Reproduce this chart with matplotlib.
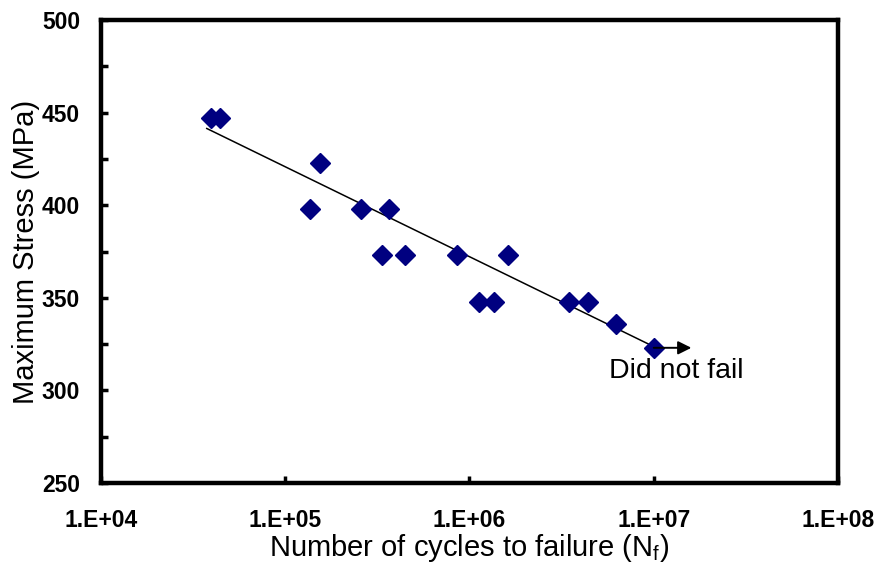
import numpy as np
import matplotlib
matplotlib.use('agg')
import matplotlib.pyplot as plt
from matplotlib.ticker import MultipleLocator, FixedLocator, NullFormatter

plt.rcParams['font.family'] = ['Liberation Sans', 'DejaVu Sans']
plt.rcParams['mathtext.fontset'] = 'custom'
plt.rcParams['mathtext.rm'] = 'Liberation Sans'
plt.rcParams['mathtext.it'] = 'Liberation Sans'

# fatigue data
cycles = [3.95e4, 4.45e4, 1.55e5, 1.36e5, 2.58e5, 3.66e5, 3.35e5, 4.47e5,
          8.55e5, 1.13e6, 1.36e6, 1.62e6, 3.47e6, 4.40e6, 6.24e6, 1.0e7]
stress = [447, 447, 423, 398, 398, 398, 373, 373,
          373, 348, 348, 373, 348, 348, 336, 323]

# runout (did not fail) arrow
runout_start = (1.0e7, 323)
runout_end = (1.6e7, 323)

x_ticks = [1e4, 1e5, 1e6, 1e7, 1e8]
x_labels = ['1.E+04', '1.E+05', '1.E+06', '1.E+07', '1.E+08']
y_ticks = [250, 300, 350, 400, 450, 500]

fig = plt.figure(figsize=(8.95, 5.72), dpi=100)
ax = fig.add_axes([101/895, 1-483/572, (838-101)/895, (483-20)/572])

# power-law trendline (Excel style) through the data
lx = np.log10(cycles)
ly = np.log10(stress)
b, a = np.polyfit(lx, ly, 1)
xt = np.array([3.75e4, 1.0e7])
yt = 10**a * xt**b
ax.plot(xt, yt, color='black', linewidth=1.1, zorder=2)

ax.plot(cycles, stress, linestyle='none', marker='D', markersize=10.5,
        color='#000080', markeredgecolor='#000080', zorder=3)

ax.annotate('', xy=runout_end, xytext=runout_start,
            arrowprops=dict(arrowstyle='-|>', color='black', lw=1.4,
                            mutation_scale=20, shrinkA=0, shrinkB=0), zorder=4)
ax.text(5.75e6, 310.5, 'Did not fail', fontsize=20.5, ha='left', va='center')

ax.set_xscale('log')
ax.set_xlim(1e4, 1e8)
ax.set_ylim(250, 500)
ax.xaxis.set_major_locator(FixedLocator(x_ticks))
ax.xaxis.set_minor_locator(FixedLocator([]))
ax.set_xticklabels(x_labels)
ax.xaxis.set_minor_formatter(NullFormatter())
ax.set_yticks(y_ticks)
ax.yaxis.set_minor_locator(MultipleLocator(25))

for s in ax.spines.values():
    s.set_linewidth(3.2)
ax.tick_params(axis='both', which='both', direction='in', width=2.5, length=5)
ax.tick_params(axis='x', which='major', pad=19, labelsize=16.5)
ax.tick_params(axis='y', which='major', pad=15, labelsize=16.5)
for lab in ax.get_xticklabels() + ax.get_yticklabels():
    lab.set_fontweight('bold')

ax.set_xlabel('Number of cycles to failure (N$_\\mathrm{f}$)', fontsize=21, labelpad=0)
ax.set_ylabel('Maximum Stress (MPa)', fontsize=21, labelpad=1)

fig.savefig('out.png', dpi=100)
